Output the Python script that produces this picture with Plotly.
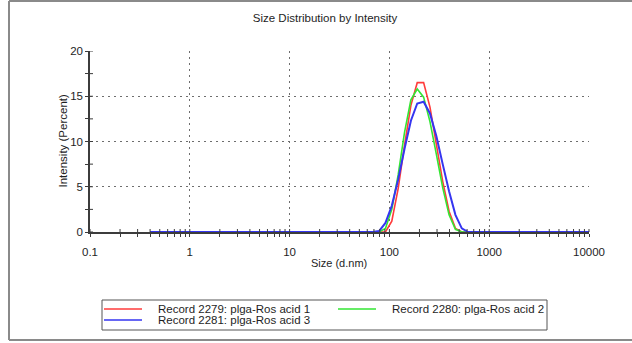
import math
import plotly.graph_objects as go

# Size bins (d.nm), log spaced from 0.4 to 10000
sizes = [
    0.4, 0.4632, 0.5365, 0.6213, 0.7195, 0.8332, 0.9649, 1.117, 1.294, 1.499,
    1.736, 2.01, 2.328, 2.696, 3.122, 3.615, 4.187, 4.849, 5.615, 6.503,
    7.531, 8.721, 10.1, 11.7, 13.54, 15.69, 18.17, 21.04, 24.36, 28.21,
    32.67, 37.84, 43.82, 50.75, 58.77, 68.06, 78.82, 91.28, 105.7, 122.4,
    141.8, 164.2, 190.1, 220.2, 255.0, 295.3, 342.0, 396.1, 458.7, 531.2,
    615.1, 712.4, 825.0, 955.4, 1106, 1281, 1484, 1718, 1990, 2305,
    2669, 3091, 3580, 4145, 4801, 5560, 6439, 7456, 8635, 10000,
]

record_1 = [
    0, 0, 0, 0, 0, 0, 0, 0, 0, 0,
    0, 0, 0, 0, 0, 0, 0, 0, 0, 0,
    0, 0, 0, 0, 0, 0, 0, 0, 0, 0,
    0, 0, 0, 0, 0, 0, 0, 0, 1.2, 4.8,
    9.6, 14.0, 16.5, 16.5, 13.8, 9.6, 5.6, 2.3, 0.4, 0,
    0, 0, 0, 0, 0, 0, 0, 0, 0, 0,
    0, 0, 0, 0, 0, 0, 0, 0, 0, 0,
]
record_2 = [
    0, 0, 0, 0, 0, 0, 0, 0, 0, 0,
    0, 0, 0, 0, 0, 0, 0, 0, 0, 0,
    0, 0, 0, 0, 0, 0, 0, 0, 0, 0,
    0, 0, 0, 0, 0, 0, 0, 0.4, 2.5, 6.3,
    11.0, 14.6, 15.8, 14.9, 12.2, 8.6, 4.9, 1.9, 0.3, 0,
    0, 0, 0, 0, 0, 0, 0, 0, 0, 0,
    0, 0, 0, 0, 0, 0, 0, 0, 0, 0,
]
record_3 = [
    0, 0, 0, 0, 0, 0, 0, 0, 0, 0,
    0, 0, 0, 0, 0, 0, 0, 0, 0, 0,
    0, 0, 0, 0, 0, 0, 0, 0, 0, 0,
    0, 0, 0, 0, 0, 0, 0.1, 1.0, 2.9, 5.8,
    9.2, 12.3, 14.2, 14.4, 13.1, 10.6, 7.5, 4.5, 1.9, 0.4,
    0, 0, 0, 0, 0, 0, 0, 0, 0, 0,
    0, 0, 0, 0, 0, 0, 0, 0, 0, 0,
]

series_names = [
    "Record 2279: plga-Ros acid 1",
    "Record 2280: plga-Ros acid 2",
    "Record 2281: plga-Ros acid 3",
]
series_values = [record_1, record_2, record_3]
series_colors = ["#ff3b3b", "#33e633", "#3535f0"]
series_widths = [1.6, 1.6, 2.0]

x_ticks = [0.1, 1, 10, 100, 1000, 10000]
x_tick_text = ["0.1", "1", "10", "100", "1000", "10000"]
y_ticks = [0, 5, 10, 15, 20]
y_minor = [2.5, 7.5, 12.5, 17.5]

W, H = 632, 343
L, R, T, B = 90, 43, 51, 111
PW, PH = W - L - R, H - T - B
FONT = "Liberation Sans, Arial, sans-serif"
AXIS_COL = "#3c3c3c"
TEXT_COL = "#1e1e1e"
GRID_COL = "#6e6e6e"
GRID_DASH = "1.5px,4.5px"


def px(xp):
    return (xp - L) / PW


def py(yp):
    return (H - B - yp) / PH


fig = go.Figure()
for name, vals, col, lw in zip(series_names, series_values, series_colors, series_widths):
    fig.add_trace(go.Scatter(
        x=sizes, y=vals, mode="lines", name=name,
        line=dict(color=col, width=lw), showlegend=False,
    ))

shapes = []

# inner halves of the crossing tick marks
x_minor = [m * d for d in (0.1, 1, 10, 100, 1000) for m in range(2, 10)]
for v in x_ticks + x_minor:
    xp = (math.log10(v) + 1) / 5
    shapes.append(dict(type="line", xref="paper", yref="paper",
                       x0=xp, x1=xp, y0=0, y1=3 / PH,
                       line=dict(color=AXIS_COL, width=1)))
for v in y_ticks + y_minor:
    shapes.append(dict(type="line", xref="paper", yref="y",
                       x0=0, x1=3 / PW, y0=v, y1=v,
                       line=dict(color=AXIS_COL, width=1)))

# outer frame (top, left and bottom edges)
frame = dict(color="#8a8a8a", width=2)
shapes.append(dict(type="line", xref="paper", yref="paper",
                   x0=px(9), x1=px(632), y0=py(1), y1=py(1), line=frame))
shapes.append(dict(type="line", xref="paper", yref="paper",
                   x0=px(9), x1=px(9), y0=py(1), y1=py(340), line=frame))
shapes.append(dict(type="line", xref="paper", yref="paper",
                   x0=px(9), x1=px(632), y0=py(340), y1=py(340), line=frame))

# legend box with line samples
shapes.append(dict(type="rect", xref="paper", yref="paper",
                   x0=px(102), x1=px(547), y0=py(300), y1=py(330),
                   line=dict(color="#555555", width=1), fillcolor="rgba(0,0,0,0)"))
legend_slots = [(104, 309), (338, 309), (104, 320)]
annotations = []
for (lx, ly), name, col in zip(legend_slots, series_names, series_colors):
    shapes.append(dict(type="line", xref="paper", yref="paper",
                       x0=px(lx), x1=px(lx + 38), y0=py(ly), y1=py(ly),
                       line=dict(color=col, width=1.4)))
    annotations.append(dict(xref="paper", yref="paper", x=px(lx + 52), y=py(ly),
                            xanchor="left", yanchor="middle", showarrow=False,
                            text=name, font=dict(family=FONT, size=11.5, color=TEXT_COL)))

annotations.append(dict(xref="paper", yref="paper", x=px(62), y=py(141.5),
                        textangle=-90, showarrow=False, text="Intensity (Percent)",
                        xanchor="center", yanchor="middle",
                        font=dict(family=FONT, size=11.5, color=TEXT_COL)))
annotations.append(dict(xref="paper", yref="paper", x=px(339), y=py(263),
                        showarrow=False, text="Size (d.nm)",
                        xanchor="center", yanchor="middle",
                        font=dict(family=FONT, size=11, color=TEXT_COL)))

fig.update_layout(
    width=W, height=H,
    margin=dict(l=L, r=R, t=T, b=B),
    paper_bgcolor="white", plot_bgcolor="white",
    title=dict(text="Size Distribution by Intensity", x=325 / W, xanchor="center",
               y=1 - 18 / H, yanchor="middle",
               font=dict(family=FONT, size=11.5, color=TEXT_COL)),
    shapes=shapes, annotations=annotations,
    showlegend=False,
    xaxis=dict(
        type="log", range=[-1, 4], tickvals=x_ticks, ticktext=x_tick_text,
        showgrid=True, gridcolor=GRID_COL, griddash=GRID_DASH, gridwidth=1,
        ticks="outside", ticklen=3, tickcolor=AXIS_COL, tickwidth=1,
        minor=dict(tickvals=x_minor, ticks="outside", ticklen=3,
                   tickcolor=AXIS_COL, showgrid=False),
        showline=True, linecolor=AXIS_COL, linewidth=1.5, zeroline=False,
        tickfont=dict(family=FONT, size=11.5, color=TEXT_COL),
        ticklabelstandoff=5,
    ),
    yaxis=dict(
        range=[0, 20], tickvals=y_ticks,
        showgrid=True, gridcolor=GRID_COL, griddash=GRID_DASH, gridwidth=1,
        ticks="outside", ticklen=3, tickcolor=AXIS_COL, tickwidth=1,
        minor=dict(tickvals=y_minor, ticks="outside", ticklen=3,
                   tickcolor=AXIS_COL, showgrid=False),
        showline=True, linecolor=AXIS_COL, linewidth=1.5, zeroline=False,
        tickfont=dict(family=FONT, size=11.5, color=TEXT_COL),
        ticklabelstandoff=0,
    ),
)

fig.write_html("out.html")
